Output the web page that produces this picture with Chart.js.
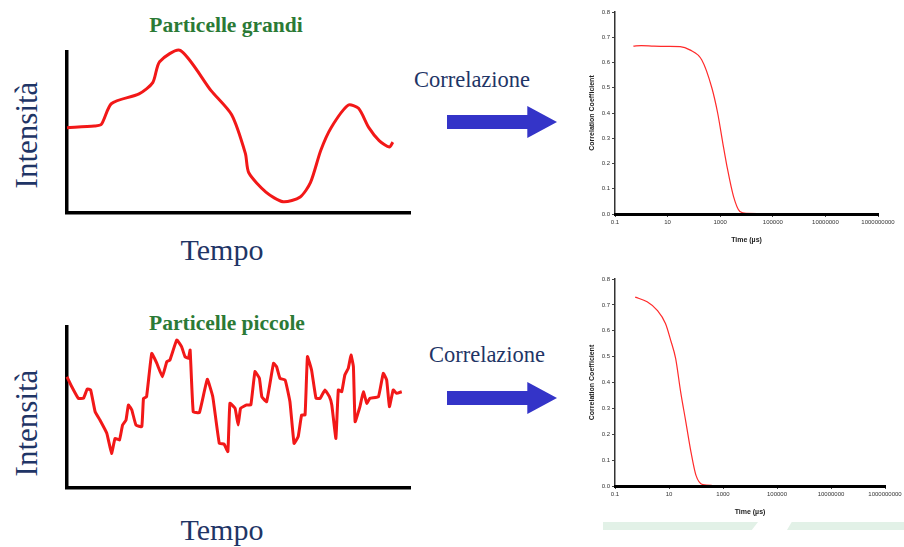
<!DOCTYPE html>
<html>
<head>
<meta charset="utf-8">
<script src="https://cdn.jsdelivr.net/npm/chart.js@4"></script>
<style>
    body { margin: 0; background: #fff; }
    #page { position: relative; width: 904px; height: 547px; overflow: hidden; background: #fff; }
    .box { position: absolute; }
    .lbl { position: absolute; font-family: "Liberation Serif", serif; color: #1f3566; white-space: nowrap; transform: translate(-50%, -50%); }
    .vert { transform: translate(-50%, -50%) rotate(-90deg); }
    .ttl { position: absolute; font-family: "Liberation Serif", serif; font-weight: bold; color: #2b7a36; white-space: nowrap; transform: translate(-50%, -50%); }
    .arrow { position: absolute; width: 110px; height: 32px; background: #3434c8; clip-path: polygon(0 28%, 73% 28%, 73% 0, 100% 50%, 73% 100%, 73% 72%, 0 72%); }
    .band { position: absolute; height: 8px; background: #e2f1e7; }
</style>
</head>
<body>
<div id="page">
    <div class="ttl" style="left:226px; top:25px; font-size:21.5px;">Particelle grandi</div>
    <div class="ttl" style="left:227px; top:323px; font-size:21.5px;">Particelle piccole</div>
    <div class="lbl vert" style="left:27px; top:135px; font-size:31px;">Intensità</div>
    <div class="lbl vert" style="left:27px; top:423px; font-size:31px;">Intensità</div>
    <div class="lbl" style="left:222px; top:250px; font-size:30px;">Tempo</div>
    <div class="lbl" style="left:222px; top:530px; font-size:30px;">Tempo</div>
    <div class="lbl" style="left:472px; top:80px; font-size:22.5px;">Correlazione</div>
    <div class="lbl" style="left:487px; top:355px; font-size:22.5px;">Correlazione</div>
    <div class="arrow" style="left:447px; top:106px;"></div>
    <div class="arrow" style="left:447px; top:382px;"></div>
    <div class="band" style="left:603px; top:522px; width:155px; clip-path: polygon(0 0, 100% 0, 96% 100%, 0 100%);"></div>
    <div class="band" style="left:787px; top:522px; width:117px; clip-path: polygon(4% 0, 100% 0, 100% 100%, 0 100%);"></div>

    <div class="box" style="left:55px; top:40px; width:365px; height:185px;"><canvas id="bigSignal"></canvas></div>
    <div class="box" style="left:55px; top:315px; width:365px; height:185px;"><canvas id="smallSignal"></canvas></div>
    <div class="box" style="left:580px; top:0px; width:324px; height:250px;"><canvas id="bigCorrChart"></canvas></div>
    <div class="box" style="left:580px; top:265px; width:324px; height:282px;"><canvas id="smallCorrChart"></canvas></div>
</div>
<script>
// intensity traces (time and intensity in arbitrary units 0-100)
const bigTime = [0, 8, 10, 13, 21, 25, 27, 33, 42, 48, 52, 53, 58, 63, 68, 71, 74, 77, 82, 85, 88, 91, 94, 95];
const bigIntensity = [53, 54, 55, 68, 74, 81, 94, 101, 76, 61, 37, 25, 13, 7, 10, 19, 39, 53, 67, 65, 53, 45, 41, 44];

const smallTime = [0, 1.4, 3.3, 4.8, 5.9, 6.9, 8.2, 9.6, 11.6, 13.0, 14.0, 15.3, 16.2, 17.2, 17.9, 18.9, 20.1, 21.8, 22.3, 23.2,
    24.7, 26.2, 27.8, 29.1, 30.0, 32.0, 33.4, 34.4, 35.4, 35.9, 36.8, 38.6, 40.9, 42.5, 44.4, 45.8, 46.9, 47.5, 49.0, 49.9,
    50.6, 52.4, 53.6, 54.8, 56.1, 56.8, 58.2, 60.2, 61.1, 62.1, 63.6, 65.0, 66.2, 67.4, 68.4, 69.4, 70.1, 71.3, 72.6, 73.8,
    75.2, 76.5, 77.2, 78.4, 79.1, 80.1, 81.0, 82.0, 82.8, 83.5, 84.0, 85.4, 86.4, 87.4, 88.3, 90.8, 92.2, 93.2, 94.0, 95.1,
    96.1, 97.6];
const smallIntensity = [69.1, 62.9, 55.7, 55.7, 61.5, 60.9, 47.4, 42.2, 34.0, 21.5, 30.8, 29.8, 39.1, 42.2, 51.6, 48.4, 39.1, 38.1, 55.7, 56.7,
    83.6, 77.4, 69.1, 78.5, 79.5, 91.9, 87.8, 81.6, 80.5, 85.7, 47.4, 46.8, 67.5, 56.7, 27.7, 27.3, 22.6, 52.6, 49.5, 39.1,
    49.5, 51.6, 51.6, 72.3, 68.1, 56.7, 53.6, 77.4, 75.4, 68.1, 67.1, 53.6, 27.7, 31.9, 45.3, 45.3, 81.6, 73.3, 55.7, 55.7,
    60.9, 56.7, 51.6, 30.8, 60.9, 59.8, 70.2, 74.3, 82.6, 75.4, 41.2, 50.5, 59.8, 52.6, 55.7, 56.7, 71.2, 67.1, 50.5, 60.9,
    58.8, 59.8];

// correlation functions (lag time in microseconds)
const bigLag = [0.5, 1, 3, 10, 30, 70, 200, 480, 800, 1260, 1800, 3200, 5600, 10000, 100000, 1000000, 10000000, 50000000];
const bigCorr = [0.665, 0.667, 0.665, 0.664, 0.663, 0.65, 0.61, 0.5, 0.4, 0.28, 0.19, 0.07, 0.01, 0.003, 0.002, 0.002, 0.001, 0.0];

const smallLag = [0.56, 1.55, 3.6, 7.4, 11.5, 17.6, 27, 42, 65, 100, 178, 400, 10000, 1000000, 70000000];
const smallCorr = [0.73, 0.712, 0.68, 0.628, 0.564, 0.493, 0.364, 0.248, 0.132, 0.041, 0.005, 0.002, 0.001, 0.001, 0.0];

const timeTicks = [0.1, 10, 1000, 100000, 10000000, 1000000000];
const corrTicks = [0, 0.1, 0.2, 0.3, 0.4, 0.5, 0.6, 0.7, 0.8];

Chart.defaults.animation = false;
Chart.defaults.responsive = true;
Chart.defaults.maintainAspectRatio = false;

function pairs(xs, ys) {
    return xs.map(function (x, i) { return { x: x, y: ys[i] }; });
}

function signalChart(id, xs, ys, tension) {
    new Chart(document.getElementById(id), {
        type: "line",
        data: {
            datasets: [{
                data: pairs(xs, ys),
                borderColor: "#f21818",
                borderWidth: 3,
                pointRadius: 0,
                tension: tension,
                clip: false,
                borderJoinStyle: "round"
            }]
        },
        options: {
            layout: { padding: { left: 12, right: 10, top: 12, bottom: 12 } },
            plugins: { legend: { display: false }, tooltip: { enabled: false } },
            scales: {
                x: {
                    type: "linear", min: 0, max: 100,
                    grid: { display: false },
                    ticks: { display: false },
                    border: { color: "#000", width: 3.5 },
                    afterFit: function (s) { s.height = 0; }
                },
                y: {
                    min: 0, max: 100,
                    grid: { display: false },
                    ticks: { display: false },
                    border: { color: "#000", width: 3.5 },
                    afterFit: function (s) { s.width = 0; }
                }
            }
        }
    });
}

function corrChart(id, xs, ys, pad) {
    new Chart(document.getElementById(id), {
        type: "line",
        data: {
            datasets: [{
                data: pairs(xs, ys),
                borderColor: "#ff2a2a",
                borderWidth: 1.2,
                pointRadius: 0,
                cubicInterpolationMode: "monotone"
            }]
        },
        options: {
            layout: { padding: pad },
            plugins: { legend: { display: false }, tooltip: { enabled: false } },
            scales: {
                x: {
                    type: "logarithmic", min: 0.1, max: 1000000000,
                    afterBuildTicks: function (s) { s.ticks = timeTicks.map(function (v) { return { value: v }; }); },
                    ticks: {
                        autoSkip: false, maxRotation: 0, padding: 2,
                        font: { family: "Liberation Sans", size: 6 }, color: "#333",
                        callback: function (v) { return String(v); }
                    },
                    grid: { drawOnChartArea: false, tickLength: 3, color: "#444" },
                    border: { color: "#000", width: 3, dash: [5, 2], z: 1 },
                    title: { display: true, text: "Time (µs)", font: { family: "Liberation Sans", size: 7, weight: "bold" }, color: "#222", padding: { top: 0, bottom: 6 } },
                    afterFit: function (s) { s.height = 36; }
                },
                y: {
                    min: 0, max: 0.8,
                    afterBuildTicks: function (s) { s.ticks = corrTicks.map(function (v) { return { value: v }; }); },
                    ticks: {
                        padding: 2,
                        font: { family: "Liberation Sans", size: 6 }, color: "#333",
                        callback: function (v) { return v.toFixed(1); }
                    },
                    grid: { drawOnChartArea: false, tickLength: 3, color: "#444" },
                    border: { color: "#333", width: 1.5 },
                    title: { display: true, text: "Correlation Coefficient", font: { family: "Liberation Sans", size: 7, weight: "bold" }, color: "#222", padding: { top: 2, bottom: 0 } },
                    afterFit: function (s) { s.width = 29; }
                }
            }
        }
    });
}

signalChart("bigSignal", bigTime, bigIntensity, 0.25);
signalChart("smallSignal", smallTime, smallIntensity, 0.1);
corrChart("bigCorrChart", bigLag, bigCorr, { left: 6, right: 26, top: 12, bottom: 0 });
corrChart("smallCorrChart", smallLag, smallCorr, { left: 6, right: 19, top: 14, bottom: 25 });
</script>
</body>
</html>
